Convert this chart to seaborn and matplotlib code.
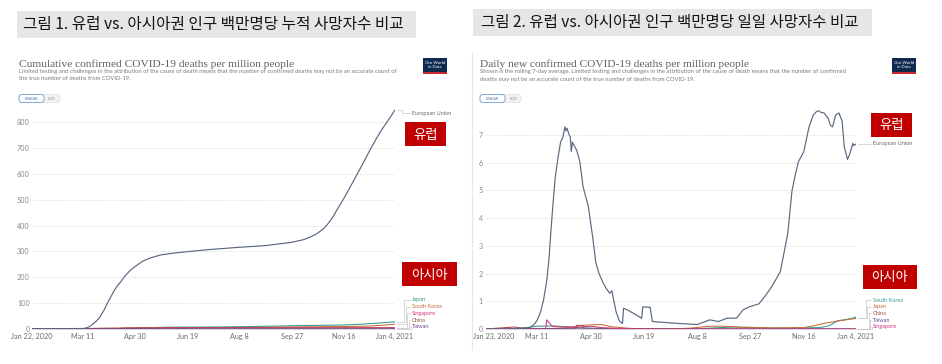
import matplotlib
matplotlib.use("Agg")
import matplotlib.pyplot as plt
import matplotlib.dates as mdates
from matplotlib.patches import Rectangle, FancyBboxPatch
from matplotlib.lines import Line2D
from matplotlib.transforms import IdentityTransform
import numpy as np
import pandas as pd
import seaborn as sns

# ---------------- data: left chart (cumulative deaths per million) ----------------
cum_eu = [("2020-01-22", 0), ("2020-02-20", 0), ("2020-03-01", 0.1), ("2020-03-08", 0.8),
          ("2020-03-11", 1.6), ("2020-03-14", 4), ("2020-03-17", 9), ("2020-03-20", 18),
          ("2020-03-24", 32), ("2020-03-27", 46), ("2020-03-31", 72), ("2020-04-03", 98),
          ("2020-04-06", 120), ("2020-04-10", 150), ("2020-04-13", 168), ("2020-04-16", 182),
          ("2020-04-20", 204), ("2020-04-25", 226), ("2020-04-30", 242), ("2020-05-07", 262),
          ("2020-05-14", 274), ("2020-05-24", 286), ("2020-06-05", 293), ("2020-06-19", 299),
          ("2020-07-10", 307), ("2020-08-08", 316), ("2020-09-01", 322), ("2020-09-27", 335),
          ("2020-10-08", 345), ("2020-10-15", 356), ("2020-10-20", 366), ("2020-10-24", 377),
          ("2020-10-28", 390), ("2020-11-01", 408), ("2020-11-05", 430), ("2020-11-10", 465),
          ("2020-11-16", 505), ("2020-11-23", 556), ("2020-11-30", 608), ("2020-12-05", 645),
          ("2020-12-11", 692), ("2020-12-18", 742), ("2020-12-23", 775), ("2020-12-27", 798),
          ("2020-12-31", 822), ("2021-01-04", 847)]
cum_japan = [("2020-01-22", 0), ("2020-02-15", 0.01), ("2020-03-11", 0.1), ("2020-04-01", 0.5),
             ("2020-04-20", 2), ("2020-05-10", 5), ("2020-06-01", 7), ("2020-07-20", 8),
             ("2020-08-20", 9.5), ("2020-09-27", 12.5), ("2020-11-16", 15.5), ("2020-12-05", 19),
             ("2020-12-20", 23), ("2021-01-04", 28)]
cum_korea = [("2020-01-22", 0), ("2020-02-20", 0), ("2020-03-11", 1.2), ("2020-04-01", 3),
             ("2020-04-30", 4.8), ("2020-06-19", 5.4), ("2020-08-08", 5.9), ("2020-09-27", 8),
             ("2020-11-16", 9.6), ("2020-12-10", 11), ("2020-12-25", 15), ("2021-01-04", 19)]
cum_singapore = [("2020-01-22", 0), ("2020-03-20", 0), ("2020-03-21", 0.35), ("2020-04-15", 1.7),
                 ("2020-05-01", 3), ("2020-06-01", 4), ("2020-07-01", 4.6), ("2020-08-08", 4.8),
                 ("2021-01-04", 5)]
cum_china = [("2020-01-22", 0.01), ("2020-02-05", 0.35), ("2020-02-20", 1.6), ("2020-03-11", 2.2),
             ("2020-04-16", 2.4), ("2020-04-17", 3.3), ("2021-01-04", 3.4)]
cum_taiwan = [("2020-01-22", 0), ("2020-02-16", 0.04), ("2020-04-10", 0.21), ("2020-05-10", 0.29),
              ("2021-01-04", 0.29)]

# ---------------- data: right chart (daily deaths per million, 7-day avg) ----------------
day_eu = [("2020-01-23", 0), ("2020-02-20", 0), ("2020-02-28", 0.02), ("2020-03-04", 0.06),
          ("2020-03-08", 0.15), ("2020-03-11", 0.32), ("2020-03-14", 0.6), ("2020-03-17", 1.05),
          ("2020-03-20", 1.75), ("2020-03-22", 2.5), ("2020-03-24", 3.6), ("2020-03-26", 4.6),
          ("2020-03-28", 5.5), ("2020-03-31", 6.3), ("2020-04-02", 6.76), ("2020-04-04", 6.9),
          ("2020-04-06", 7.3), ("2020-04-07", 7.15), ("2020-04-08", 7.25), ("2020-04-10", 7.0),
          ("2020-04-11", 6.94), ("2020-04-12", 6.4), ("2020-04-13", 6.75), ("2020-04-15", 6.6),
          ("2020-04-17", 6.46), ("2020-04-20", 6.04), ("2020-04-23", 5.14), ("2020-04-28", 4.42),
          ("2020-05-02", 3.33), ("2020-05-05", 2.4), ("2020-05-08", 2.0), ("2020-05-12", 1.65),
          ("2020-05-15", 1.45), ("2020-05-18", 1.29), ("2020-05-20", 1.38), ("2020-05-22", 1.0),
          ("2020-05-24", 0.62), ("2020-05-27", 0.3), ("2020-05-29", 0.22), ("2020-05-30", 0.2),
          ("2020-05-31", 0.75), ("2020-06-04", 0.68), ("2020-06-09", 0.57), ("2020-06-13", 0.48),
          ("2020-06-17", 0.39), ("2020-06-18", 0.8), ("2020-06-25", 0.78), ("2020-06-27", 0.27),
          ("2020-07-14", 0.22), ("2020-08-08", 0.16), ("2020-08-20", 0.33), ("2020-08-28", 0.27),
          ("2020-09-05", 0.39), ("2020-09-14", 0.39), ("2020-09-20", 0.69), ("2020-09-26", 0.8),
          ("2020-10-05", 0.91), ("2020-10-11", 1.2), ("2020-10-17", 1.53), ("2020-10-25", 2.07),
          ("2020-10-29", 2.85), ("2020-11-01", 3.45), ("2020-11-05", 5.0), ("2020-11-08", 5.56),
          ("2020-11-11", 6.04), ("2020-11-16", 6.4), ("2020-11-21", 7.3), ("2020-11-25", 7.73),
          ("2020-11-28", 7.85), ("2020-11-30", 7.88), ("2020-12-02", 7.82), ("2020-12-05", 7.8),
          ("2020-12-09", 7.6), ("2020-12-11", 7.35), ("2020-12-13", 7.3), ("2020-12-16", 7.73),
          ("2020-12-19", 7.8), ("2020-12-22", 7.5), ("2020-12-24", 6.58), ("2020-12-27", 6.12),
          ("2020-12-29", 6.3), ("2021-01-01", 6.7), ("2021-01-02", 6.62), ("2021-01-04", 6.68)]
day_korea = [("2020-01-23", 0), ("2020-02-20", 0.01), ("2020-03-03", 0.06), ("2020-03-11", 0.1),
             ("2020-03-25", 0.11), ("2020-04-05", 0.09), ("2020-04-20", 0.05), ("2020-05-10", 0.02),
             ("2020-06-19", 0.01), ("2020-08-08", 0.01), ("2020-09-10", 0.07), ("2020-09-27", 0.06),
             ("2020-10-20", 0.03), ("2020-11-16", 0.04), ("2020-12-01", 0.05), ("2020-12-10", 0.12),
             ("2020-12-18", 0.3), ("2020-12-24", 0.33), ("2020-12-31", 0.38), ("2021-01-03", 0.43),
             ("2021-01-04", 0.41)]
day_japan = [("2020-01-23", 0), ("2020-02-15", 0), ("2020-03-11", 0.01), ("2020-03-25", 0.02),
             ("2020-04-10", 0.05), ("2020-04-20", 0.12), ("2020-04-30", 0.15), ("2020-05-10", 0.16),
             ("2020-05-20", 0.08), ("2020-06-10", 0.01), ("2020-07-15", 0.005), ("2020-08-01", 0.03),
             ("2020-08-20", 0.1), ("2020-09-01", 0.1), ("2020-09-20", 0.06), ("2020-10-15", 0.04),
             ("2020-11-16", 0.05), ("2020-11-26", 0.12), ("2020-12-05", 0.2), ("2020-12-15", 0.27),
             ("2020-12-25", 0.33), ("2021-01-04", 0.38)]
day_china = [("2020-01-23", 0), ("2020-01-30", 0.02), ("2020-02-10", 0.05), ("2020-02-18", 0.07),
             ("2020-02-25", 0.04), ("2020-03-05", 0.02), ("2020-03-15", 0.01), ("2020-04-16", 0.0),
             ("2020-04-17", 0.13), ("2020-04-23", 0.13), ("2020-04-24", 0.0), ("2021-01-04", 0.0)]
day_taiwan = [("2020-01-23", 0), ("2020-04-01", 0.01), ("2020-05-01", 0.0), ("2021-01-04", 0.0)]
day_singapore = [("2020-01-23", 0), ("2020-03-19", 0), ("2020-03-20", 0.33), ("2020-03-25", 0.1),
                 ("2020-04-05", 0.07), ("2020-04-20", 0.07), ("2020-05-01", 0.1), ("2020-05-10", 0.05),
                 ("2020-06-01", 0.01), ("2020-07-01", 0), ("2021-01-04", 0)]

left_ticks = ["2020-01-22", "2020-03-11", "2020-04-30", "2020-06-19", "2020-08-08",
              "2020-09-27", "2020-11-16", "2021-01-04"]
left_ticklabels = ["Jan 22, 2020", "Mar 11", "Apr 30", "Jun 19", "Aug 8", "Sep 27", "Nov 16", "Jan 4, 2021"]
right_ticks = ["2020-01-23", "2020-03-11", "2020-04-30", "2020-06-19", "2020-08-08",
               "2020-09-27", "2020-11-16", "2021-01-04"]
right_ticklabels = ["Jan 23, 2020", "Mar 11", "Apr 30", "Jun 19", "Aug 8", "Sep 27", "Nov 16", "Jan 4, 2021"]
left_yticks = [0, 100, 200, 300, 400, 500, 600, 700, 800]
right_yticks = [0, 1, 2, 3, 4, 5, 6, 7]

left_names = ["European Union", "Japan", "South Korea", "Singapore", "China", "Taiwan"]
left_series = [cum_eu, cum_japan, cum_korea, cum_singapore, cum_china, cum_taiwan]
right_names = ["European Union", "South Korea", "Japan", "China", "Taiwan", "Singapore"]
right_series = [day_eu, day_korea, day_japan, day_china, day_taiwan, day_singapore]

C_EU = "#5a6880"
C_TEAL = "#2f9a92"
C_ORANGE = "#c96b35"
C_PINK = "#d2357a"
C_BROWN = "#a14d4f"
C_PURPLE = "#6c4896"
left_colors = {"European Union": C_EU, "Japan": C_TEAL, "South Korea": C_ORANGE,
               "Singapore": C_PINK, "China": C_BROWN, "Taiwan": C_PURPLE}
right_colors = {"European Union": C_EU, "South Korea": C_TEAL, "Japan": C_ORANGE,
                "China": C_BROWN, "Taiwan": C_PURPLE, "Singapore": C_PINK}

# ---------------- figure ----------------
sns.set_theme(style="white")
plt.rcParams["font.family"] = ["Lato", "DejaVu Sans"]
KR = ["Noto Sans CJK KR", "DejaVu Sans"]
SERIF = ["Liberation Serif", "DejaVu Serif"]

W, H = 942, 364
fig = plt.figure(figsize=(W / 100, H / 100), dpi=100)
fig.patch.set_facecolor("white")


def fx(px):
    return px / W


def fy(py):
    return 1 - py / H


def ftext(x, y, s, **kw):
    return fig.text(fx(x), fy(y), s, **kw)


def frect(x0, y0, x1, y1, **kw):
    fig.add_artist(Rectangle((x0, H - y1), x1 - x0, y1 - y0, transform=IdentityTransform(), **kw))


def fround(x0, y0, x1, y1, r=3, **kw):
    fig.add_artist(FancyBboxPatch((x0, H - y1), x1 - x0, y1 - y0,
                                  boxstyle=f"round,pad=0,rounding_size={r}",
                                  transform=IdentityTransform(), **kw))


def fline(xs, ys, **kw):
    fig.add_artist(Line2D(list(xs), [H - y for y in ys], transform=IdentityTransform(), **kw))


def to_long(names, series):
    frames = []
    for n, s in zip(names, series):
        d = pd.DataFrame(s, columns=["date", "value"])
        d["date"] = pd.to_datetime(d["date"])
        d["series"] = n
        frames.append(d)
    return pd.concat(frames, ignore_index=True)


def style_axes(ax, ticks, ticklabels, yticks, ymax, ypad):
    ax.set_xlim(pd.Timestamp(ticks[0]), pd.Timestamp(ticks[-1]))
    ax.set_ylim(0, ymax)
    ax.set_yticks(yticks)
    ax.set_xticks([pd.Timestamp(t) for t in ticks])
    ax.set_xticklabels(ticklabels)
    ax.set_xlabel("")
    ax.set_ylabel("")
    ax.set_facecolor("none")
    ax.grid(axis="y", color="#dadada", linestyle=(0, (1.5, 1.5)), lw=0.6)
    ax.grid(axis="x", visible=False)
    for s in ["top", "right", "left"]:
        ax.spines[s].set_visible(False)
    ax.spines["bottom"].set_color("#d0d0d0")
    ax.spines["bottom"].set_linewidth(0.6)
    ax.tick_params(axis="x", length=0, labelsize=5.2, labelcolor="#6b6b6b", pad=3.0)
    ax.tick_params(axis="y", length=0, labelsize=5.2, labelcolor="#8a8a8a", pad=ypad)


def end_px(ax, pairs):
    d, v = pairs[-1]
    x, y = ax.transData.transform((mdates.date2num(pd.Timestamp(d)), v))
    return x, H - y


def draw_panel(ax, names, series, colors, ticks, ticklabels, yticks, ymax, ypad):
    df = to_long(names, series)
    sns.lineplot(data=df[df.series != "European Union"], x="date", y="value", hue="series",
                 palette=colors, estimator=None, legend=False, ax=ax, lw=0.75)
    sns.lineplot(data=df[df.series == "European Union"], x="date", y="value",
                 color=colors["European Union"], estimator=None, legend=False, ax=ax, lw=0.85)
    style_axes(ax, ticks, ticklabels, yticks, ymax, ypad)


# ---------------- panel 1 ----------------
ax1 = fig.add_axes([fx(32), fy(329), fx(395 - 32), (329 - 106.5) / H])
draw_panel(ax1, left_names, left_series, left_colors, left_ticks, left_ticklabels,
           left_yticks, 860, 1.6)

# ---------------- panel 2 ----------------
ax2 = fig.add_axes([fx(486), fy(329), fx(856 - 486), (329 - 106.0) / H])
draw_panel(ax2, right_names, right_series, right_colors, right_ticks, right_ticklabels,
           right_yticks, 8.05, 2.2)
labs = ax2.get_xticklabels()
labs[0].set_text("")
ax2.set_xticklabels([l.get_text() for l in labs])
ax2.annotate(right_ticklabels[0], xy=(mdates.date2num(pd.Timestamp(right_ticks[0])), 0),
             xycoords=("data", "axes fraction"), xytext=(-9.5, -3.0), textcoords="offset points",
             ha="left", va="top", fontsize=5.2, color="#6b6b6b")

# ---------------- line labels with connectors ----------------
def label_lines(ax, names, series, colors, label_x, label_ys, x_mid0, x_mid_step):
    for i, (n, s) in enumerate(zip(names, series)):
        ex, ey = end_px(ax, s)
        ly = label_ys[i]
        xm = x_mid0 + x_mid_step * i
        fline([ex + 2, xm, xm, label_x - 2], [ey, ey, ly, ly], color="#c8c8c8", lw=0.5)
        col = "#6b6b6b" if n == "European Union" else colors[n]
        ftext(label_x, ly, n, fontsize=4.0, color=col, va="center", ha="left")


label_lines(ax1, left_names, left_series, left_colors, 412,
            [113, 300, 306.7, 313.3, 320, 326.7], 402, 1.8)
label_lines(ax2, right_names, right_series, right_colors, 873,
            [144, 300, 306.7, 313.3, 320, 326.7], 864, 1.6)

# ---------------- headers ----------------
frect(17, 11, 416, 38, facecolor="#e6e6e6", edgecolor="none")
ftext(23, 24.8, "그림 1. 유럽 vs. 아시아권 인구 백만명당 누적 사망자수 비교", family=KR,
      fontsize=11.3, color="#141414", va="center", ha="left")
frect(473, 9, 872, 36, facecolor="#e6e6e6", edgecolor="none")
ftext(481, 22.8, "그림 2. 유럽 vs. 아시아권 인구 백만명당 일일 사망자수 비교", family=KR,
      fontsize=11.2, color="#141414", va="center", ha="left")

# right panel frame edge
fline([471.5, 471.5], [52, 350], color="#e6e6e6", lw=0.8)

ftext(19, 67, "Cumulative confirmed COVID-19 deaths per million people", family=SERIF,
      fontsize=8.2, color="#5f5f5f", va="baseline", ha="left")
ftext(19, 73, "Limited testing and challenges in the attribution of the cause of death means that the "
      "number of confirmed deaths may not be an accurate count of", fontsize=4.28, color="#7a7a7a",
      va="baseline", ha="left")
ftext(19, 80, "the true number of deaths from COVID-19.", fontsize=4.28, color="#7a7a7a",
      va="baseline", ha="left")

ftext(480, 67, "Daily new confirmed COVID-19 deaths per million people", family=SERIF,
      fontsize=8.2, color="#5f5f5f", va="baseline", ha="left")
ftext(480, 73.5, "Shown is the rolling 7-day average. Limited testing and challenges in the attribution "
      "of the cause of death means that the number of confirmed", fontsize=4.28, color="#7a7a7a",
      va="baseline", ha="left")
ftext(480, 80.5, "deaths may not be an accurate count of the true number of deaths from COVID-19.",
      fontsize=4.28, color="#7a7a7a", va="baseline", ha="left")


def buttons(x0, y0):
    fround(x0, y0, x0 + 41, y0 + 8, r=3, facecolor="#f2f2f2", edgecolor="#dddddd", lw=0.5)
    fround(x0, y0, x0 + 25, y0 + 8, r=3, facecolor="white", edgecolor="#6d9fd3", lw=0.6)
    ftext(x0 + 12.5, y0 + 4.2, "LINEAR", fontsize=2.8, color="#4a78b0", ha="center", va="center")
    ftext(x0 + 33, y0 + 4.2, "LOG", fontsize=2.8, color="#8a8a8a", ha="center", va="center")


buttons(19, 94.5)
buttons(480, 94.5)


def logo(x0, y0):
    frect(x0, y0, x0 + 24, y0 + 14, facecolor="#0e2a4f", edgecolor="none")
    frect(x0, y0 + 14, x0 + 24, y0 + 16, facecolor="#c8282e", edgecolor="none")
    ftext(x0 + 12, y0 + 7.2, "Our World\nin Data", fontsize=3.1, color="white", ha="center",
          va="center", linespacing=1.0)


logo(423, 58)
logo(892, 58)


def red_box(x0, y0, x1, y1, s):
    frect(x0, y0, x1, y1, facecolor="#c00000", edgecolor="none")
    ftext((x0 + x1) / 2, (y0 + y1) / 2 + 0.5, s, family=KR, fontsize=9.6, color="white",
          ha="center", va="center")


red_box(405, 122, 446, 146, "유럽")
red_box(402, 262, 457, 286, "아시아")
red_box(871, 113, 912, 137, "유럽")
red_box(863, 265, 917, 289, "아시아")

fig.savefig("out.png", dpi=100, facecolor="white")
